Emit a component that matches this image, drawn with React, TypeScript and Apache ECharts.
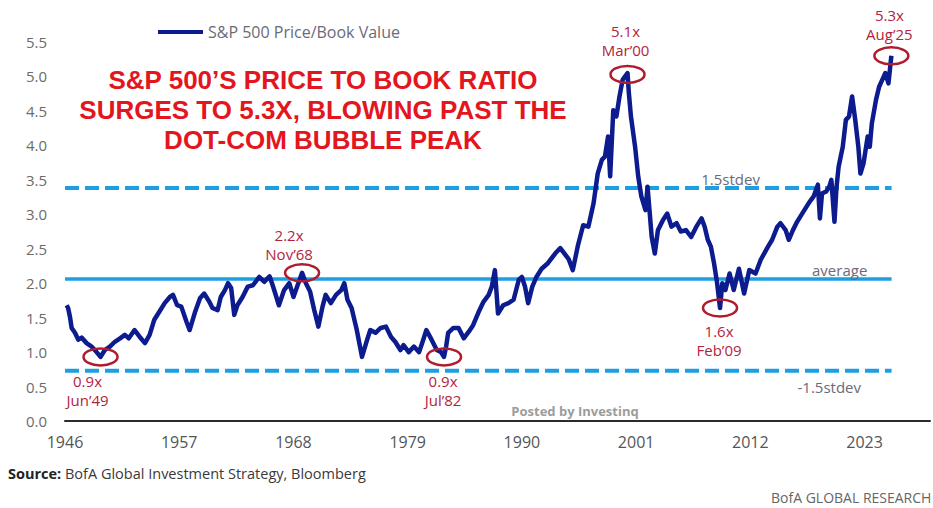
import React, { useEffect, useRef } from "react";
import * as echarts from "echarts";

// ---------- data ----------
const AXIS_START = 1946;
const AXIS_END = 2029.3;
const TICK_STEP = 11;
const Y_MAX = 5.5;
const Y_STEP = 0.5;

const years = [
  1946.16, 1946.3, 1946.48, 1946.64, 1946.96, 1947.28, 1947.6, 1948.08, 1948.56, 1949.04,
  1949.42, 1949.84, 1950.32, 1950.8, 1951.3, 1951.76, 1952.14, 1952.7, 1953.2, 1953.7,
  1954.15, 1954.6, 1955.1, 1955.6, 1956.1, 1956.4, 1956.8, 1957.2, 1957.7, 1958.0,
  1958.5, 1959.0, 1959.4, 1959.9, 1960.2, 1960.7, 1961.0, 1961.4, 1961.7, 1962.0,
  1962.3, 1962.6, 1963.1, 1963.6, 1964.1, 1964.7, 1965.2, 1965.7, 1966.0, 1966.6,
  1967.1, 1967.6, 1968.0, 1968.4, 1968.83, 1969.2, 1969.6, 1970.0, 1970.4, 1970.8,
  1971.1, 1971.6, 1972.1, 1972.6, 1972.9, 1973.2, 1973.6, 1974.1, 1974.6, 1975.1,
  1975.4, 1975.9, 1976.4, 1976.9, 1977.4, 1977.8, 1978.3, 1978.6, 1979.1, 1979.6,
  1980.1, 1980.5, 1980.8, 1981.3, 1981.8, 1982.2, 1982.5, 1982.7, 1982.9, 1983.4,
  1983.9, 1984.4, 1984.9, 1985.3, 1985.8, 1986.3, 1986.8, 1987.1, 1987.4, 1987.7,
  1988.2, 1988.7, 1989.2, 1989.7, 1990.0, 1990.3, 1990.6, 1991.0, 1991.4, 1991.9,
  1992.5, 1993.2, 1993.7, 1994.1, 1994.5, 1994.9, 1995.4, 1995.9, 1996.4, 1996.9,
  1997.3, 1997.7, 1998.0, 1998.3, 1998.5, 1998.8, 1999.1, 1999.4, 1999.7, 2000.17,
  2000.3, 2000.5, 2000.9, 2001.2, 2001.5, 2001.9, 2002.1, 2002.5, 2002.8, 2003.1,
  2003.6, 2004.0, 2004.4, 2004.9, 2005.3, 2005.8, 2006.3, 2006.8, 2007.3, 2007.6,
  2007.9, 2008.2, 2008.5, 2008.8, 2009.08, 2009.3, 2009.6, 2010.0, 2010.4, 2010.9,
  2011.4, 2011.9, 2012.5, 2013.0, 2013.7, 2014.1, 2014.6, 2014.9, 2015.4, 2015.7,
  2016.1, 2016.5, 2017.2, 2017.7, 2018.1, 2018.5, 2018.7, 2018.9, 2019.3, 2019.6,
  2019.8, 2020.1, 2020.3, 2020.5, 2020.9, 2021.2, 2021.5, 2021.8, 2022.1, 2022.4,
  2022.6, 2022.9, 2023.3, 2023.5, 2023.7, 2024.1, 2024.4, 2024.7, 2025.0, 2025.3,
  2025.58,
];

const priceToBook = [
  1.68, 1.64, 1.51, 1.35, 1.28, 1.18, 1.21, 1.13, 1.08, 1.0,
  0.93, 1.03, 1.08, 1.15, 1.2, 1.25, 1.2, 1.32, 1.22, 1.13,
  1.25, 1.47, 1.59, 1.71, 1.8, 1.83, 1.68, 1.66, 1.44, 1.32,
  1.57, 1.78, 1.85, 1.73, 1.64, 1.61, 1.8, 1.9, 2.0, 1.93,
  1.54, 1.68, 1.8, 1.95, 1.97, 2.09, 2.02, 2.1, 1.97, 1.68,
  1.9, 2.0, 1.8, 1.97, 2.15, 2.0, 1.88, 1.61, 1.37, 1.66,
  1.83, 1.71, 1.83, 1.9, 2.0, 1.76, 1.64, 1.32, 0.93, 1.18,
  1.32, 1.28, 1.35, 1.37, 1.22, 1.15, 1.03, 1.1, 1.0, 1.08,
  1.0, 1.18, 1.32, 1.18, 1.03, 1.0, 0.93, 1.08, 1.28, 1.35,
  1.35, 1.2, 1.3, 1.39, 1.57, 1.73, 1.83, 1.95, 2.19, 1.56,
  1.68, 1.71, 1.76, 2.05, 2.09, 1.95, 1.71, 1.95, 2.09, 2.21,
  2.29, 2.43, 2.51, 2.43, 2.35, 2.19, 2.55, 2.84, 2.82, 3.16,
  3.59, 3.79, 3.84, 4.13, 3.55, 4.51, 4.42, 4.71, 4.95, 5.05,
  4.76, 4.42, 3.98, 3.55, 3.26, 3.06, 3.4, 2.67, 2.43, 2.77,
  2.92, 3.01, 2.82, 2.87, 2.75, 2.77, 2.67, 2.82, 2.94, 2.82,
  2.63, 2.53, 2.29, 2.0, 1.64, 2.0, 1.9, 2.14, 1.9, 2.21,
  1.85, 2.19, 2.14, 2.34, 2.53, 2.63, 2.82, 2.87, 2.77, 2.63,
  2.77, 2.89, 3.06, 3.18, 3.26, 3.43, 2.94, 3.3, 3.33, 3.4,
  3.5, 2.89, 3.4, 3.69, 3.98, 4.37, 4.42, 4.71, 4.37, 3.98,
  3.59, 3.74, 4.13, 3.98, 4.32, 4.66, 4.85, 4.95, 5.05, 4.9,
  5.3,
];

const AVERAGE = 2.06;
const PLUS_STDEV = 3.38;
const MINUS_STDEV = 0.73;
const REF_LINE_END = 2025.6;

const refLabels = ["1.5stdev", "average", "-1.5stdev"];
const refLabelValues = [PLUS_STDEV, AVERAGE, MINUS_STDEV];
const refLabelYears = [2010.1, 2020.6, 2019.6];

const annYears = [1949.42, 1968.83, 1982.5, 2000.17, 2009.08, 2025.58];
const annValues = [0.93, 2.15, 0.93, 5.03, 1.64, 5.3];
const annMultiples = ["0.9x", "2.2x", "0.9x", "5.1x", "1.6x", "5.3x"];
const annDates = ["Jun\u201949", "Nov\u201968", "Jul\u201982", "Mar\u201900", "Feb\u201909", "Aug\u201925"];

const SERIES_NAME = "S&P 500 Price/Book Value";
const TITLE_LINES = [
  "S&P 500\u2019S PRICE TO BOOK RATIO",
  "SURGES TO 5.3X, BLOWING PAST THE",
  "DOT-COM BUBBLE PEAK",
];

// ---------- layout / style ----------
const FONT = '"Open Sans", "DejaVu Sans", sans-serif';
const NAVY = "#0c1b8e";
const LIGHT_BLUE = "#1e9fe3";
const ANN_RED = "#b4233c";
const ELLIPSE_RED = "#b01c2e";
// label: [dx, dy of the two-line block centre] from the ellipse centre
const annLabelOffsets = [
  [-13, 34],
  [-13, -28],
  [-1, 34],
  [-2, -34],
  [-1, 33],
  [-2, -31],
];
const refLabelDy = [-9, -9, 16];

export default function App() {
  const ref = useRef<HTMLDivElement>(null);

  useEffect(() => {
    if (!ref.current) return;
    const chart = echarts.init(ref.current, undefined, { renderer: "svg" });

    const lineData = years.map((y, i) => [y - AXIS_START, priceToBook[i]]);
    const span = (v: number) => [
      [0, v],
      [REF_LINE_END - AXIS_START, v],
    ];

    chart.setOption({
      animation: false,
      backgroundColor: "#ffffff",
      grid: { left: 65, right: 0, top: 42, bottom: 87 },
      legend: {
        data: [SERIES_NAME],
        left: 158,
        top: 24,
        padding: 0,
        icon: "rect",
        itemWidth: 45,
        itemHeight: 4,
        textStyle: { color: "#6a6a78", fontSize: 16, fontFamily: FONT },
      },
      xAxis: {
        type: "value",
        min: 0,
        max: AXIS_END - AXIS_START,
        interval: TICK_STEP,
        axisLine: { show: true, lineStyle: { color: "#2b2b2b", width: 2 } },
        axisTick: { show: false },
        splitLine: { show: false },
        axisLabel: {
          color: "#555555",
          fontSize: 16,
          fontFamily: FONT,
          margin: 13,
          formatter: (v: number) =>
            Math.abs(v % TICK_STEP) < 1e-6 ? String(AXIS_START + v) : "",
        },
      },
      yAxis: {
        type: "value",
        min: 0,
        max: Y_MAX,
        interval: Y_STEP,
        axisLine: { show: false },
        axisTick: { show: false },
        splitLine: { show: false },
        axisLabel: {
          color: "#6b6b6b",
          fontSize: 15,
          fontFamily: FONT,
          margin: 18,
          formatter: (v: number) => v.toFixed(1),
        },
      },
      series: [
        {
          name: "plus",
          type: "line",
          data: span(PLUS_STDEV),
          symbol: "none",
          silent: true,
          lineStyle: { color: LIGHT_BLUE, width: 4, type: [14, 6] },
          z: 1,
        },
        {
          name: "avg",
          type: "line",
          data: span(AVERAGE),
          symbol: "none",
          silent: true,
          lineStyle: { color: LIGHT_BLUE, width: 3.5 },
          z: 1,
        },
        {
          name: "minus",
          type: "line",
          data: span(MINUS_STDEV),
          symbol: "none",
          silent: true,
          lineStyle: { color: LIGHT_BLUE, width: 4, type: [14, 6] },
          z: 1,
        },
        {
          name: SERIES_NAME,
          type: "line",
          data: lineData,
          symbol: "none",
          itemStyle: { color: NAVY },
          lineStyle: { color: NAVY, width: 4.5, join: "round" },
          z: 3,
        },
      ],
    });

    const toPx = (year: number, v: number) =>
      chart.convertToPixel({ gridIndex: 0 }, [year - AXIS_START, v]) as number[];

    const graphics: any[] = [];

    graphics.push({
      type: "text",
      x: 323,
      y: 65,
      z: 50,
      style: {
        text: TITLE_LINES.join("\n"),
        font: 'bold 26px "Liberation Sans", Arial, sans-serif',
        fill: "#e3161e",
        align: "center",
        verticalAlign: "top",
        lineHeight: 30,
      },
    });

    annYears.forEach((yr, i) => {
      const [cx, cy] = toPx(yr, annValues[i]);
      const off = annLabelOffsets[i];
      graphics.push({
        type: "ellipse",
        z: 60,
        shape: { cx, cy, rx: 17, ry: 8.5 },
        style: { fill: "none", stroke: ELLIPSE_RED, lineWidth: 2.5 },
      });
      graphics.push({
        type: "text",
        x: cx + off[0],
        y: cy + off[1],
        z: 60,
        style: {
          text: annMultiples[i] + "\n" + annDates[i],
          font: `15px ${FONT}`,
          fill: ANN_RED,
          align: "center",
          verticalAlign: "middle",
          lineHeight: 19,
        },
      });
    });

    refLabels.forEach((t, i) => {
      const [x, y] = toPx(refLabelYears[i], refLabelValues[i]);
      graphics.push({
        type: "text",
        x,
        y: y + refLabelDy[i],
        z: 40,
        style: {
          text: t,
          font: `15px ${FONT}`,
          fill: "#6a6a7a",
          align: "center",
          verticalAlign: "middle",
        },
      });
    });

    graphics.push({
      type: "text",
      x: 575,
      y: 411,
      z: 40,
      style: {
        text: "Posted by Investinq",
        font: `bold 13px ${FONT}`,
        fill: "#9c9c9c",
        align: "center",
        verticalAlign: "middle",
      },
    });

    graphics.push({
      type: "text",
      x: 8,
      y: 473,
      z: 40,
      style: {
        text: "{b|Source:} BofA Global Investment Strategy, Bloomberg",
        font: `14.5px ${FONT}`,
        fill: "#3a3a3a",
        verticalAlign: "middle",
        rich: {
          b: { fontWeight: "bold", fontSize: 14.5, fontFamily: FONT, fill: "#222222" },
        },
      },
    });

    graphics.push({
      type: "text",
      x: 771,
      y: 497,
      z: 40,
      style: {
        text: "BofA GLOBAL RESEARCH",
        font: `14px ${FONT}`,
        fill: "#666666",
        verticalAlign: "middle",
      },
    });

    chart.setOption({ graphic: graphics });

    return () => chart.dispose();
  }, []);

  return (
    <div
      ref={ref}
      style={{
        position: "fixed",
        left: 0,
        top: 0,
        width: 933,
        height: 508,
        background: "#ffffff",
      }}
    />
  );
}
